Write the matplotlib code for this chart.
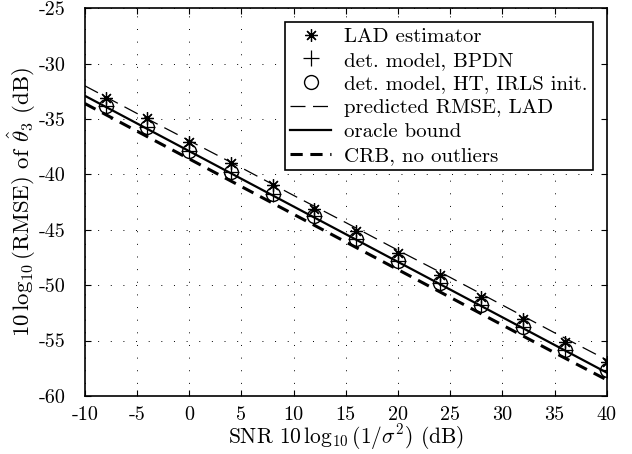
import numpy as np
import matplotlib
matplotlib.use("Agg")
import matplotlib.pyplot as plt

plt.rcParams['font.family'] = ['cmr10', 'DejaVu Serif']
plt.rcParams['mathtext.fontset'] = 'cm'
plt.rcParams['axes.unicode_minus'] = False
plt.rcParams['axes.formatter.use_mathtext'] = True

# Data
snr_markers = [-8, -4, 0, 4, 8, 12, 16, 20, 24, 28, 32, 36, 40]
lad = [-33.1, -34.95, -37.05, -39.0, -41.0, -43.1, -45.1, -47.1, -49.1, -51.1, -53.05, -55.15, -56.95]
bpdn = [-33.8, -35.75, -37.85, -39.75, -41.8, -43.8, -45.85, -47.85, -49.8, -51.8, -53.8, -55.85, -57.65]
ht = [-33.8, -35.75, -37.85, -39.75, -41.8, -43.8, -45.85, -47.85, -49.8, -51.8, -53.8, -55.85, -57.65]

snr_lines = [-10, -5, 0, 5, 10, 15, 20, 25, 30, 35, 40]
pred_lad = [-32.0, -34.5, -36.95, -39.4, -41.9, -44.35, -46.85, -49.3, -51.8, -54.3, -56.75]
oracle = [-32.9, -35.4, -37.9, -40.4, -42.9, -45.4, -47.9, -50.4, -52.9, -55.4, -57.9]
crb = [-33.6, -36.1, -38.6, -41.1, -43.6, -46.1, -48.6, -51.1, -53.6, -56.1, -58.55]

xticks = [-10, -5, 0, 5, 10, 15, 20, 25, 30, 35, 40]
yticks = [-60, -55, -50, -45, -40, -35, -30, -25]

fig = plt.figure(figsize=(6.32, 4.54), dpi=100)
ax = fig.add_axes([0.134, 0.128, 0.826, 0.854])

ax.plot(snr_markers, lad, linestyle='none', marker=(8, 2, 0), markersize=9,
        markeredgewidth=0.9, color='black', label='LAD estimator')
ax.plot(snr_markers, bpdn, linestyle='none', marker='+', markersize=11,
        markeredgewidth=0.9, color='black', label='det. model, BPDN')
ax.plot(snr_markers, ht, linestyle='none', marker='o', markersize=10,
        markerfacecolor='none', markeredgewidth=1.0, color='black',
        label='det. model, HT, IRLS init.')
ax.plot(snr_lines, pred_lad, color='black', linewidth=0.9,
        dashes=(12, 6), label='predicted RMSE, LAD')
ax.plot(snr_lines, oracle, color='black', linewidth=1.6, label='oracle bound')
ax.plot(snr_lines, crb, color='black', linewidth=2.2, dashes=(4, 2.5),
        label='CRB, no outliers')

ax.set_xlim(-10, 40)
ax.set_ylim(-60, -25)
ax.set_xticks(xticks)
ax.set_yticks(yticks)
ax.set_xticklabels([str(t) for t in xticks])
ax.set_yticklabels([str(t) for t in yticks])
ax.tick_params(direction='in', top=True, right=True, labelsize=14.5, length=4, width=0.8)
ax.tick_params(axis='x', pad=7)
ax.tick_params(axis='y', pad=14)
ax.grid(True, color='black', linestyle=(0, (1, 12)), linewidth=0.7)
for s in ax.spines.values():
    s.set_linewidth(1.2)

ax.set_xlabel(r'SNR $10\,\log_{10}(1/\sigma^2)$ (dB)', fontsize=15.5, labelpad=-1)
ax.set_ylabel(r'$10\,\log_{10}$(RMSE) of $\hat{\theta}_3$ (dB)', fontsize=16.5, labelpad=0)

leg = ax.legend(loc='upper right', bbox_to_anchor=(0.973, 0.964), borderaxespad=0,
                fontsize=15, frameon=True, fancybox=False, edgecolor='black',
                framealpha=1, handlelength=2.0, handletextpad=0.6,
                labelspacing=0.25, borderpad=0.25, numpoints=1)
leg.get_frame().set_linewidth(1.2)

fig.savefig('out.png', dpi=100)
